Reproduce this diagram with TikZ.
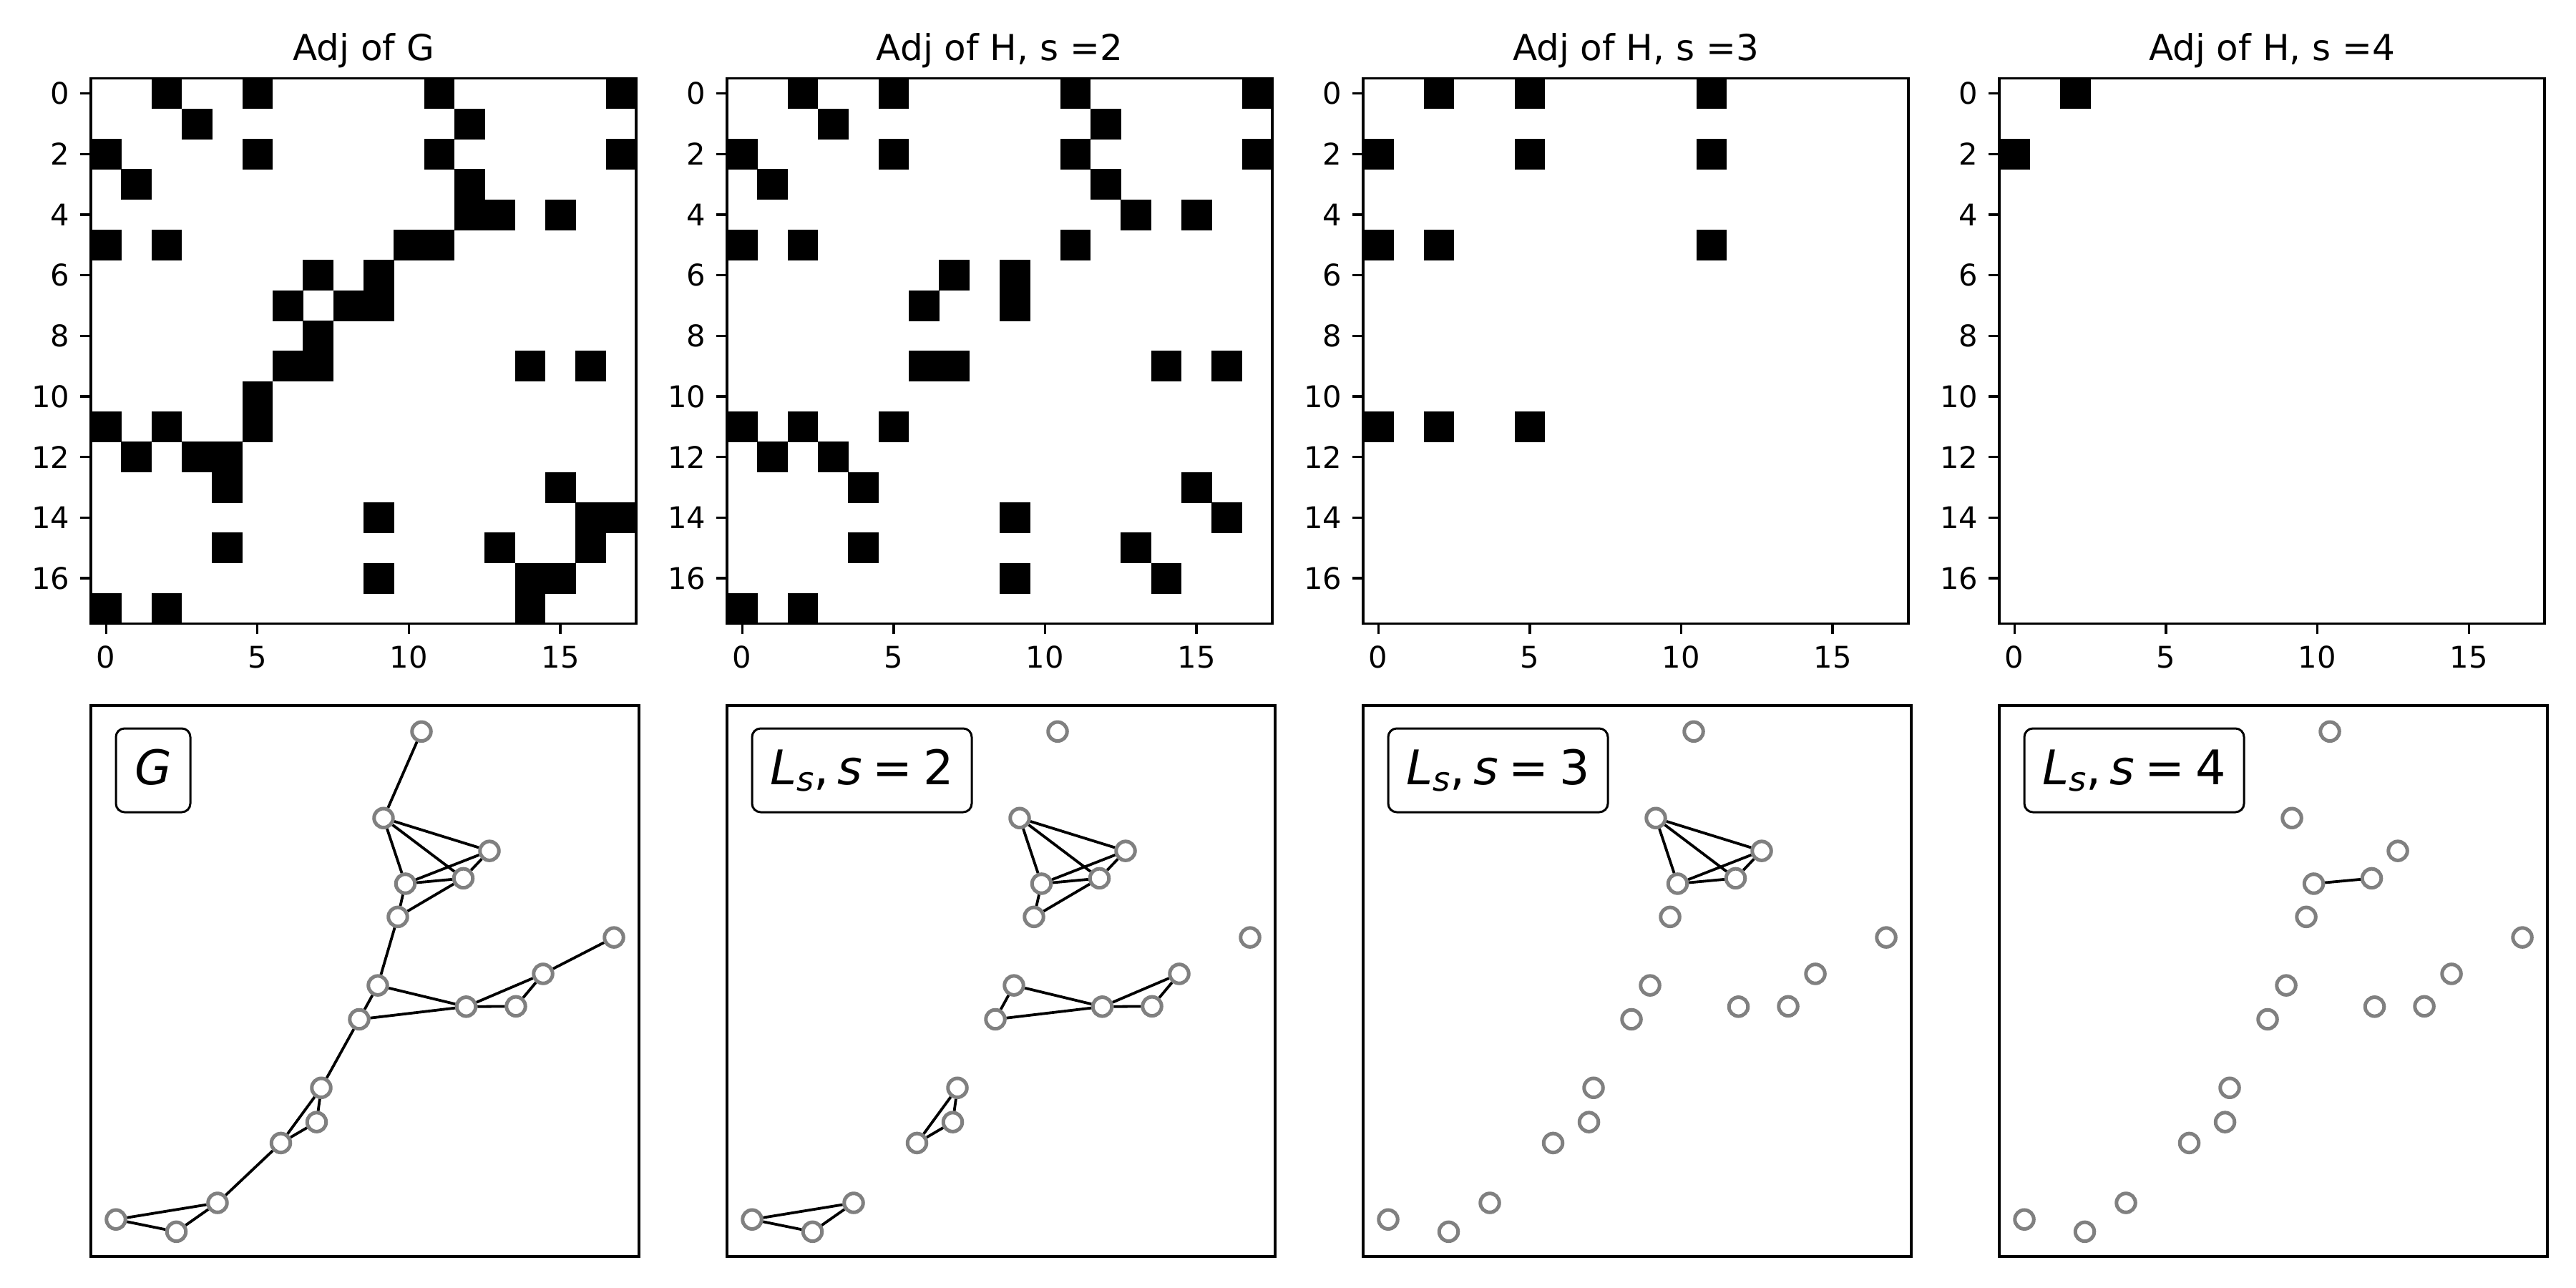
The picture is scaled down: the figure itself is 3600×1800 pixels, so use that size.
\documentclass[tikz,border=0pt]{standalone}
\usepackage{fontspec}
\setmainfont{DejaVu Sans}
\definecolor{nodegray}{HTML}{808080}
\newcommand\drawmat[3]{%
  \pgfmathsetmacro\mx{127+889*#1}%
  \foreach \r/\c in {#3} {\fill ({\mx+\c*42.33},{109.5+\r*42.33}) rectangle ++(42.8,42.8);}
  \draw[axframe] (\mx,109.5) rectangle ++(762,762);
  \foreach \r in {0,2,...,16} {
    \draw[axtick] ({\mx-14.6},{109.5+(\r+0.5)*42.33}) -- ++(14.6,0);
    \node[ticklab,anchor=east] (yl#1r\r) at ({\mx-29.2},{109.5+(\r+0.5)*42.33}) {\r};
  }
  \foreach \c in {0,5,10,15} {
    \draw[axtick] ({\mx+(\c+0.5)*42.33},871.5) -- ++(0,14.6);
    \node[ticklab,anchor=north] (xl#1c\c) at ({\mx+(\c+0.5)*42.33},902) {\c};
  }
  \node[ttl] (ttl#1) at ({\mx+381},85) {#2};
}
\newcommand\drawpanel[4]{%
  \pgfmathsetmacro\gx{127+889*#1}%
  \draw[axframe] (\gx,986) rectangle ++(766,770);
  \foreach \nn/\px/\py in {A/589/1021,B/536/1141,C/684/1186.5,D/566.5/1232,E/647.5/1224.5,F/556/1278,G/858/1306.5,H/759/1357,I/528/1373,J/651.5/1402.5,K/721/1402,L/502/1420,M/449/1515,N/442.5/1562.5,O/392.5/1591.5,P/304/1674.5,Q/162/1697.5,R/246.5/1714.5}
    {\node[vtx] (g#1\nn) at ({\px+889*#1},{986+1.008*(\py-985)}) {};}
  \foreach \a/\b in {#4} {\draw[gedge] (g#1\a) -- (g#1\b);}
  \node[lbl,minimum width=#3] (lab#1) at ({\gx+33.5},1076.5) {#2};
}
\newcommand\lslabel[1]{\textit{L}\raisebox{-0.9mm}{\fontsize{13.3}{15}\selectfont\textit{s}},\hspace{0.17em}\textit{s}\hspace{0.22em}=\hspace{0.22em}#1}
\begin{document}
\begin{tikzpicture}[x=0.1mm,y=-0.1mm,
  axframe/.style={draw=black,line width=0.333mm},
  axtick/.style={line width=0.333mm},
  ticklab/.style={font=\fontsize{11.86}{14}\selectfont,inner sep=0},
  ttl/.style={font=\fontsize{14.23}{17}\selectfont,inner sep=0,anchor=base},
  vtx/.style={circle,draw=nodegray,fill=white,line width=0.5mm,minimum size=2.65mm,inner sep=0},
  gedge/.style={draw=black,line width=0.38mm},
  lbl/.style={draw=black,line width=0.3mm,rounded corners=1.2mm,fill=white,font=\fontsize{18.97}{22}\selectfont,minimum height=11.7mm,text height=5mm,text depth=1.1mm,inner xsep=0,anchor=west}]
\fill[white] (0,0) rectangle (3600,1800);
\useasboundingbox (0,0) rectangle (3600,1800);
\drawmat{0}{Adj of G}{0/2,0/5,0/11,0/17,1/3,1/12,2/0,2/5,2/11,2/17,3/1,3/12,4/12,4/13,4/15,5/0,5/2,5/10,5/11,6/7,6/9,7/6,7/8,7/9,8/7,9/6,9/7,9/14,9/16,10/5,11/0,11/2,11/5,12/1,12/3,12/4,13/4,13/15,14/9,14/16,14/17,15/4,15/13,15/16,16/9,16/14,16/15,17/0,17/2,17/14}
\drawmat{1}{Adj of H, s =2}{0/2,0/5,0/11,0/17,1/3,1/12,2/0,2/5,2/11,2/17,3/1,3/12,4/13,4/15,5/0,5/2,5/11,6/7,6/9,7/6,7/9,9/6,9/7,9/14,9/16,11/0,11/2,11/5,12/1,12/3,13/4,13/15,14/9,14/16,15/4,15/13,16/9,16/14,17/0,17/2}
\drawmat{2}{Adj of H, s =3}{0/2,0/5,0/11,2/0,2/5,2/11,5/0,5/2,5/11,11/0,11/2,11/5}
\drawmat{3}{Adj of H, s =4}{0/2,2/0}
\drawpanel{0}{\textit{G}}{10.4mm}{A/B,B/C,B/E,B/D,C/D,C/E,D/E,D/F,E/F,F/I,I/J,I/L,L/J,J/H,J/K,K/H,H/G,L/M,M/O,M/N,N/O,O/P,P/Q,P/R,Q/R}
\drawpanel{1}{\lslabel{2}}{30.7mm}{B/C,B/E,B/D,C/D,C/E,D/E,D/F,E/F,I/J,I/L,L/J,J/H,J/K,K/H,M/O,M/N,N/O,P/Q,P/R,Q/R}
\drawpanel{2}{\lslabel{3}}{30.7mm}{B/C,B/E,B/D,C/D,C/E,D/E}
\drawpanel{3}{\lslabel{4}}{30.7mm}{D/E}
\end{tikzpicture}
\end{document}
